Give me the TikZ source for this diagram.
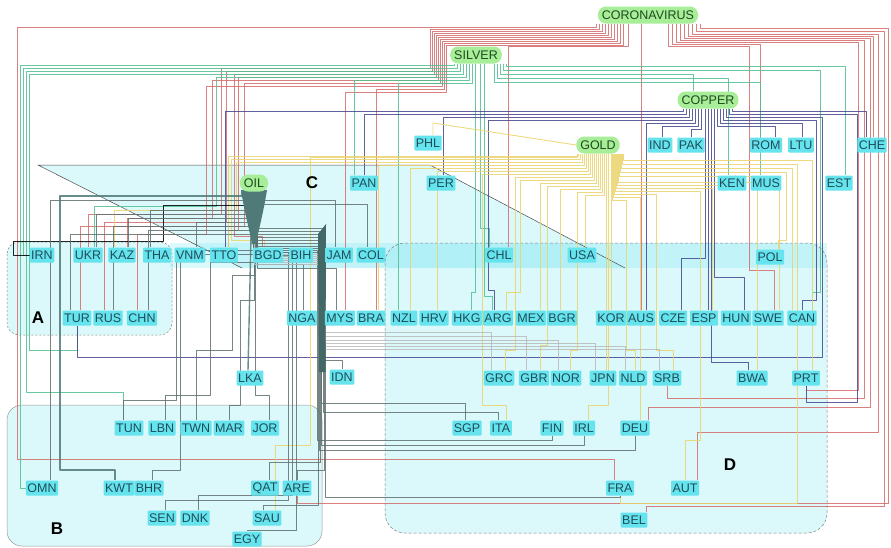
\documentclass[tikz,border=0pt]{standalone}
\usepackage{fontspec}
\setmainfont{Liberation Sans}
\pgfdeclarelayer{regions}
\pgfdeclarelayer{lines}
\pgfsetlayers{regions,lines,main}
\definecolor{regc}{HTML}{8AEAF2}
\definecolor{labfill}{HTML}{66E4EE}
\definecolor{labtext}{HTML}{1F4D5A}
\definecolor{comfill}{HTML}{A8EE98}
\definecolor{comtext}{HTML}{1E4A1E}
\definecolor{cvc}{HTML}{D46A6A}
\definecolor{svc}{HTML}{4FBF8F}
\definecolor{cuc}{HTML}{45458F}
\definecolor{auc}{HTML}{EBD46A}
\definecolor{oilc}{HTML}{5F6F6F}
\definecolor{oild}{HTML}{4F7A78}
\begin{document}
\begin{tikzpicture}[x=1pt,y=-1pt,
  country/.style={fill=labfill,text=labtext,font=\fontsize{12.5}{14}\selectfont,inner xsep=1.5pt,inner ysep=0pt,minimum height=15pt,rounded corners=1pt},
  commod/.style={fill=comfill,text=comtext,font=\fontsize{12.5}{14}\selectfont,inner xsep=4pt,inner ysep=0pt,minimum height=17pt,rounded corners=8pt},
  reglab/.style={font=\bfseries\fontsize{17}{17}\selectfont,text=black},
  regbox/.style={fill=regc,fill opacity=0.3},
  lnbase/.style={line width=0.7pt,draw opacity=0.85,line join=round},
  cv/.style={lnbase,draw=cvc},
  sv/.style={lnbase,draw=svc},
  cu/.style={lnbase,draw=cuc},
  au/.style={lnbase,draw=auc,line width=0.9pt},
  ol/.style={lnbase,draw=oilc},
  lg/.style={lnbase,draw=gray!55,line width=0.6pt},
  oldark/.style={lnbase,draw=oild,line width=1.4pt}]
\useasboundingbox (0,0) rectangle (891,547);

% ---------- nodes ----------
\node[commod] (CV) at (648,15) {CORONAVIRUS};
\node[commod] (SV) at (476,55) {SILVER};
\node[commod] (CU) at (708,100) {COPPER};
\node[commod] (AU) at (598,145) {GOLD};
\node[commod] (OIL) at (254,183) {OIL};

\foreach \n/\x/\y in {IRN/42/255,UKR/88/255,KAZ/122/255,THA/157/255,VNM/190/255,TTO/224/255,BGD/268/255,BIH/301/255,JAM/339/255,COL/371/255,CHL/499/255,USA/582/255,POL/770/257,
 TUR/77/318,RUS/108/318,CHN/142/318,NGA/302/318,MYS/340/318,BRA/371/318,NZL/404/318,HRV/434/318,HKG/467/318,ARG/498/318,MEX/531/318,BGR/562/318,KOR/611/318,AUS/641/318,CZE/673/318,ESP/704/318,HUN/736/318,SWE/768/318,CAN/802/318,
 PHL/428/143,PAN/364/183,PER/441/183,IND/660/145,PAK/691/145,ROM/766/145,LTU/801/145,CHE/872/145,KEN/732/183,MUS/766/183,EST/839/183,
 LKA/250/378,IDN/342/377,GRC/499/378,GBR/534/378,NOR/566/378,JPN/603/378,NLD/633/378,SRB/667/378,BWA/752/378,PRT/806/378,
 TUN/129/428,LBN/162/428,TWN/196/428,MAR/229/428,JOR/265/428,SGP/467/428,ITA/501/428,FIN/552/428,IRL/584/428,DEU/635/428,
 OMN/42/488,KWT/119/488,BHR/149/488,QAT/265/488,ARE/297/488,FRA/620/488,AUT/685/488,
 SEN/162/518,DNK/195/518,SAU/267/518,BEL/634/520,EGY/247/539}
  \node[country] (\n) at (\x,\y) {\n};

\node[reglab] (LA) at (38,318) {A};
\node[reglab] (LB) at (57,529) {B};
\node[reglab] (LC) at (312,183) {C};
\node[reglab] (LD) at (730,465) {D};

% ---------- regions ----------
\begin{pgfonlayer}{regions}
\fill[white] (0,0) rectangle (891,547);
\fill[regbox] (38,165) -- (430,165) -- (625,268) -- (242,268) -- cycle;
\fill[regbox] (170,243) rectangle (827,268);
\fill[regbox,rounded corners=12pt] (7,242) rectangle (172,335);
\fill[regbox,rounded corners=15pt] (7,405) rectangle (322,546);
\fill[regbox,rounded corners=20pt] (385,243) rectangle (827,533);
\draw[gray,line width=0.5pt,dash pattern=on 2pt off 2pt,rounded corners=12pt] (7,242) rectangle (172,335);
\draw[gray!80,line width=0.5pt,rounded corners=15pt] (7,405) rectangle (322,546);
\draw[gray,line width=0.5pt,dash pattern=on 3pt off 2pt,rounded corners=20pt] (385,243) rectangle (827,533);
\draw[black!70,line width=0.5pt] (242,268) -- (38,165) -- (430,165) -- (625,268);
\end{pgfonlayer}

% ---------- connectors ----------
\begin{pgfonlayer}{lines}
% CORONAVIRUS
\draw[cv] ([xshift=-52]CV.south) |- (17,27) -- (17,459) -| ([xshift=-6]FRA.north);
\draw[cv] ([xshift=-49]CV.south) |- (430,29) |- (221,68) -- (221,214) -| (UKR);
\draw[cv] ([xshift=-46]CV.south) |- (432,31) |- (226,71) -- (226,222) -| ([xshift=-4]RUS.north);
\draw[cv] ([xshift=-43]CV.south) |- (434,33) |- (234,74) -- (234,236) -| ([xshift=-6]BGD.north);
\draw[cv] ([xshift=-40]CV.south) |- (436,35) |- (238,77) -- (238,230) -| ([xshift=4]TTO.north);
\draw[cv] ([xshift=-37]CV.south) |- (438,37) |- (212,80) -- (212,218) -| ([xshift=5]KAZ.north);
\draw[cv] ([xshift=-34]CV.south) |- (440,39) |- (244,83) -- (244,226) -| ([xshift=3]TUR.north);
\draw[cv] ([xshift=-31]CV.south) |- (442,41) |- (206,86) -- (206,234) -| ([xshift=-5]CHN.north);
\draw[cv] ([xshift=-28]CV.south) |- (444,43) |- (376,89) -- ([xshift=5]BRA.north);
\draw[cv] ([xshift=-25]CV.south) |- (446,45) |- (345,92) -- ([xshift=5]MYS.north);
\draw[cv] ([xshift=-20]CV.south) |- (508,46) -- ([xshift=9]CHL.north);
\draw[cv] ([xshift=-7]CV.south) -- (AUS.north);
\draw[cv] ([xshift=20]CV.south) |- (749,46) -- (749,270) -| ([xshift=6]SWE.north);
\draw[cv] ([xshift=24]CV.south) |- (760,44) -- ([xshift=-6]ROM.north);
\draw[cv] ([xshift=28]CV.south) |- (858,42) -- (858,390) -| (PRT);
\draw[cv] ([xshift=32]CV.south) |- (864,40) -- (864,398) -| (SRB);
\draw[cv] ([xshift=36]CV.south) |- (870,38) -- (870,407) -| ([xshift=13]DEU.north);
\draw[cv] ([xshift=40]CV.south) |- (873,36) -- ([xshift=1]CHE.north);
\draw[cv] ([xshift=44]CV.south) |- (878,34) -- (878,432) -| ([xshift=12]AUT.north);
\draw[cv] ([xshift=48]CV.south) |- (884,31) -- (884,506) -| ([xshift=12]BEL.north);
\draw[cv] ([xshift=52]CV.south) |- (888,28) -- (888,503) -| (ARE);
% SILVER
\draw[sv] ([xshift=-22]SV.south) |- (20,65) |- (OMN);
\draw[sv] ([xshift=-19]SV.south) |- (23,68) |- (IRN);
\draw[sv] ([xshift=-16]SV.south) |- (26,71) -- (26,392) -| ([xshift=-6]TUN.north);
\draw[sv] ([xshift=-13]SV.south) |- (29,74) -- (29,350) -| (TUR);
\draw[sv] ([xshift=-10]SV.south) |- (216,77) -- (216,206) -| ([xshift=6]UKR.north);
\draw[sv] ([xshift=-7]SV.south) |- (354,80) -- ([xshift=-10]PAN.north);
\draw[sv] ([xshift=-4]SV.south) |- (398,83) -- ([xshift=-6]NZL.north);
\draw[sv] ([xshift=-1]SV.south) -- (475,292) -| ([xshift=4]HKG.north);
\draw[sv] ([xshift=4]SV.south) -- (480,228) -| ([xshift=-10]CHL.north);
\draw[sv] ([xshift=8]SV.south) -- (484,296) -| ([xshift=-6]ARG.north);
\draw[sv] ([xshift=18]SV.south) |- (760,82) -- ([xshift=-6]MUS.north);
\draw[sv] ([xshift=21]SV.south) |- (728,78) -- ([xshift=-4]KEN.north);
\draw[sv] ([xshift=24]SV.south) |- (693,74) -- ([xshift=-15]CU.north);
\draw[sv] ([xshift=27]SV.south) |- (820,70) -- (820,292) -| ([xshift=10]CAN.north);
\draw[sv] ([xshift=30]SV.south) |- (845,66) -- ([xshift=6]EST.north);
% COPPER
\draw[cu] ([xshift=-25]CU.south) |- (225,111) -- ([xshift=1]TTO.north);
\draw[cu] ([xshift=-22]CU.south) |- (364,114) -- (PAN);
\draw[cu] ([xshift=-19]CU.south) |- (443,117) -- ([xshift=2]PER.north);
\draw[cu] ([xshift=-16]CU.south) |- (488,120) -- (488,290) -| ([xshift=-4]ARG.north);
\draw[cu] ([xshift=-13]CU.south) |- (646,123) -- ([xshift=5]AUS.north);
\draw[cu] ([xshift=-10]CU.south) |- (662,126) -- ([xshift=2]IND.north);
\draw[cu] ([xshift=-7]CU.south) |- (691,129) -- (PAK.north);
\draw[cu] ([xshift=-3]CU.south) -- (705,258) -| ([xshift=8]CZE.north);
\draw[cu] ([xshift=0]CU.south) -- ([xshift=4]ESP.north);
\draw[cu] ([xshift=3]CU.south) -- (711,362) -| ([xshift=-4]BWA.north);
\draw[cu] ([xshift=6]CU.south) -- (714,277) -| ([xshift=8]HUN.north);
\draw[cu] ([xshift=9]CU.south) |- (775,126) -- ([xshift=9]ROM.north);
\draw[cu] ([xshift=12]CU.south) |- (802,123) -- ([xshift=1]LTU.north);
\draw[cu] ([xshift=15]CU.south) |- (816,120) -- (816,300) -| (CAN);
\draw[cu] ([xshift=18]CU.south) |- (822,117) -- (822,357) -| (TUR);
\draw[cu] ([xshift=21]CU.south) |- (857,114) -- (857,402) -| (PRT);
\draw[cu] ([xshift=24]CU.south) |- (866,111) -- ([xshift=-6]CHE.north);
% GOLD
\draw[au] (AU.west) -- (433,123) -- ([xshift=5]PHL.north);
\draw[au] ([xshift=-21]AU.south) |- (310,157) -- (310,445) -| ([xshift=8]SAU.north);
\draw[au] ([xshift=-20]AU.south) |- (228,156) -- ([xshift=4]TTO.north);
\draw[au] ([xshift=-18]AU.south) |- (231,159) -- (231,240) -| ([xshift=-4]BGD.north);
\draw[au] ([xshift=-16]AU.south) |- (236,162) -- (236,210) -| ([xshift=-8]KAZ.north);
\draw[au] ([xshift=-14]AU.south) |- (378,165) -- ([xshift=7]BRA.north);
\draw[au] ([xshift=-12]AU.south) |- (410,168) -- ([xshift=6]NZL.north);
\draw[au] ([xshift=-10]AU.south) |- (437,171) -- ([xshift=3]HRV.north);
\draw[au] ([xshift=-8]AU.south) |- (482,174) -- (482,405) -| ([xshift=5]ITA.north);
\draw[au] ([xshift=-6]AU.south) |- (515,177) -- (515,350) -| ([xshift=6]GRC.north);
\draw[au] ([xshift=-4]AU.south) |- (520,180) -- (520,292) -| ([xshift=8]ARG.north);
\draw[au] ([xshift=-2]AU.south) |- (540,183) -- ([xshift=9]MEX.north);
\draw[au] ([xshift=0]AU.south) |- (547,186) -- (547,345) -| ([xshift=6]GBR.north);
\draw[au] ([xshift=2]AU.south) |- (560,189) -- ([xshift=-2]BGR.north);
\draw[au] ([xshift=4]AU.south) |- (577,192) -- (577,350) -| ([xshift=4]NOR.north);
\draw[au] ([xshift=6]AU.south) |- (585,195) -- ([xshift=3]USA.north);
\draw[au] ([xshift=8]AU.south) -- ([xshift=3]JPN.north);
\draw[au] ([xshift=10]AU.south) -- (608,405) -| ([xshift=4]IRL.north);
\draw[au] ([xshift=13]AU.south) -- (KOR.north);
\draw[au] ([xshift=14]AU.south) |- (626,200) -- (626,350) -| ([xshift=2]NLD.north);
\draw[au] ([xshift=15]AU.south) |- (640,197) -- ([xshift=5]DEU.north);
\draw[au] ([xshift=16]AU.south) |- (656,194) -- (656,350) -| ([xshift=6]SRB.north);
\draw[au] ([xshift=17]AU.south) |- (700,191) -- (700,440) -| (AUT);
\draw[au] ([xshift=18]AU.south) |- (712,188) -- ([xshift=8]ESP.north);
\draw[au] ([xshift=19]AU.south) |- (735,185) -- ([xshift=3]KEN.north);
\draw[au] ([xshift=20]AU.south) |- (757,182) -- ([xshift=5]BWA.north);
\draw[au] ([xshift=21]AU.south) |- (779,176) -- ([xshift=11]SWE.north);
\draw[au] ([xshift=22]AU.south) |- (786,172) -- (786,240) -| ([xshift=8]POL.north);
\draw[au] ([xshift=23]AU.south) |- (792,168) -- ([xshift=-10]CAN.north);
\draw[au] ([xshift=24]AU.south) |- (797,164) -- (797,503) -| (FRA);
\draw[au] ([xshift=25]AU.south) |- (812,160) -- ([xshift=6]PRT.north);
% OIL
\draw[lnbase,draw=black,line width=0.8pt] ([xshift=-10]OIL.south) |- (163,205) -- (163,241) -- (13,241) |- (IRN);
\draw[oldark] ([xshift=-12]OIL.south) |- (60,196) -- (60,470) -| ([xshift=-4]KWT.north);
\draw[ol] ([xshift=-11]OIL.south) |- (50,200) -- ([xshift=8]OMN.north);
\draw[ol] ([xshift=-9]OIL.south) |- (150,210) -- ([xshift=-7]THA.north);
\draw[ol] ([xshift=-8]OIL.south) |- (96,214) -- ([xshift=8]UKR.north);
\draw[ol] ([xshift=-7]OIL.south) |- (128,218) -- ([xshift=6]KAZ.north);
\draw[ol] ([xshift=-6]OIL.south) |- (196,222) -- ([xshift=6]VNM.north);
\draw[ol] ([xshift=-5]OIL.south) |- (113,226) -- ([xshift=5]RUS.north);
\draw[ol] ([xshift=-4]OIL.south) |- (148,230) -- ([xshift=6]CHN.north);
\draw[ol] ([xshift=-3]OIL.south) |- (70,234) -- ([xshift=-7]TUR.north);
\draw[oldark] ([xshift=-2]OIL.south) -- ([xshift=-2]LKA.north);
\draw[ol] ([xshift=-1]OIL.south) |- (176,250) -- (176,400) -| ([xshift=-6]TUN.north);
\draw[ol] ([xshift=-1]OIL.south) |- (210,262) -- (210,395) -| ([xshift=3]LBN.north);
\draw[ol] ([xshift=-1]OIL.south) |- (180,254) -- (180,470) -| ([xshift=3]BHR.north);
\draw[ol] ([xshift=0]OIL.south) |- (232,275) -- (232,350) -| (TWN);
\draw[ol] ([xshift=0]OIL.south) |- (240,300) -- (240,405) -| (MAR);
\draw[ol] ([xshift=1]OIL.south) -- (255,395) -| ([xshift=4]JOR.north);
\draw[ol] ([xshift=2]OIL.south) |- (288,252) -- (288,500) -| ([xshift=3]SEN.north);
\draw[ol] ([xshift=2]OIL.south) |- (292,256) -- (292,495) -| ([xshift=3]DNK.north);
\draw[ol] ([xshift=2]OIL.south) |- (296,260) -- (296,530) -| (EGY);
\draw[ol] ([xshift=3]OIL.south) |- (303,264) -- ([xshift=1]NGA.north);
\draw[ol] ([xshift=3]OIL.south) |- (336,268) -- ([xshift=-4]MYS.north);
\draw[ol] ([xshift=3]OIL.south) |- (BIH);
\draw[ol] ([xshift=8]OIL.south) |- (335,200) -- ([xshift=-4]JAM.north);
\draw[ol] ([xshift=9]OIL.south) |- (367,204) -- ([xshift=-4]COL.north);
\draw[ol] ([xshift=3]OIL.south) |- (322,228) -- (322,360) -| (IDN);
\draw[ol] ([xshift=3]OIL.south) |- (324,231) -- (324,470) -| (ARE);
\draw[ol] ([xshift=2]OIL.south) |- (320,234) -- (320,462) -| ([xshift=4]QAT.north);
\draw[ol] ([xshift=2]OIL.south) |- (321,237) -- (321,403) -| ([xshift=-2]SGP.north);
\draw[ol] ([xshift=1]OIL.south) |- (323,240) -- (323,412) -| ([xshift=-3]ITA.north);
\draw[ol] ([xshift=1]OIL.south) |- (325,243) -- (325,497) -| (FRA);
\draw[ol] ([xshift=0]OIL.south) |- (319,246) -- (319,450) -| (DEU);
\draw[ol] ([xshift=0]OIL.south) |- (321,248) -- (321,445) -| (IRL);
\draw[ol] ([xshift=0]OIL.south) |- (317,250) -- (317,440) -| (FIN);
\draw[ol] ([xshift=0]OIL.south) |- (318,252) -- (318,505) -| ([xshift=-4]SAU.north);
\draw[lg] ([xshift=0]OIL.south) |- (323,254) -- (323,332) -| ([xshift=-8]GRC.north);
\draw[lg] ([xshift=0]OIL.south) |- (324,256) -- (324,336) -| ([xshift=-8]GBR.north);
\draw[lg] ([xshift=0]OIL.south) |- (322,258) -- (322,340) -| ([xshift=-8]NOR.north);
\draw[lg] ([xshift=0]OIL.south) |- (325,260) -- (325,343) -| ([xshift=-8]JPN.north);
\draw[lg] ([xshift=0]OIL.south) |- (321,262) -- (321,346) -| ([xshift=-8]NLD.north);
\draw[lg] ([xshift=0]OIL.south) |- (320,264) -- (320,349) -| ([xshift=-8]SRB.north);
% bundles drawn as solid shapes
\fill[oild] (241,190) .. controls (245,215) and (250,232) .. (252,244) -- (256,244) .. controls (258,232) and (263,215) .. (267,190) -- cycle;
\fill[oild!85!black] (318,234) -- (326,224) -- (325.5,372) -- (319,372) -- cycle;
\end{pgfonlayer}
\end{tikzpicture}
\end{document}
